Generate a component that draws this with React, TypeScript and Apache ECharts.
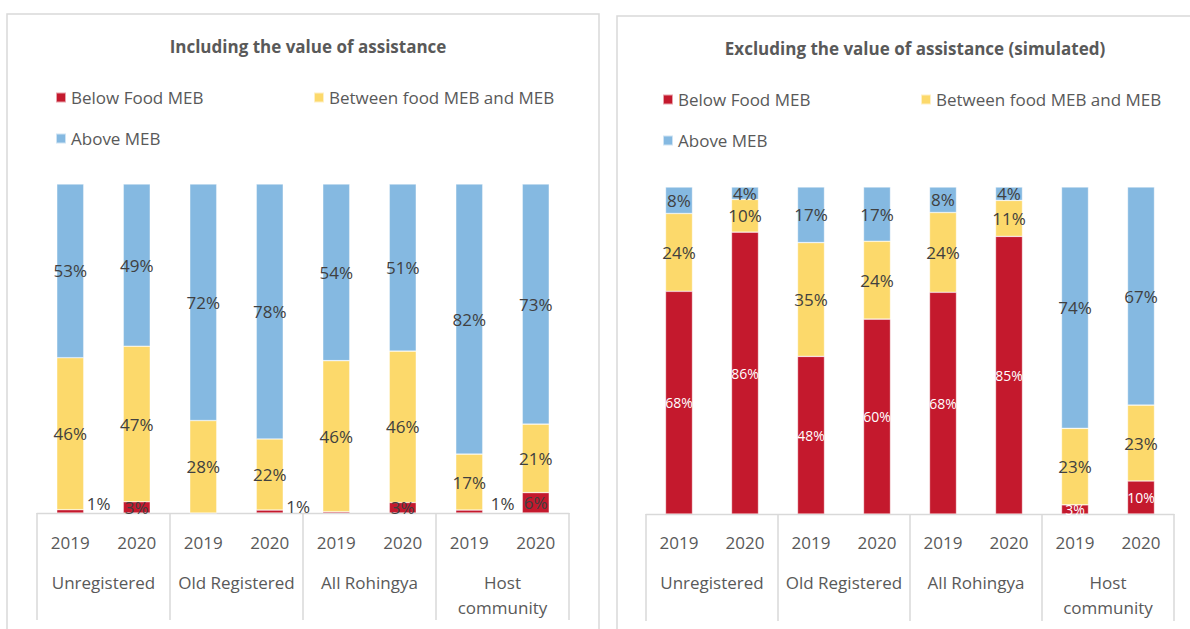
import React, { useEffect, useRef } from "react";
import * as echarts from "echarts";

const years = ["2019", "2020", "2019", "2020", "2019", "2020", "2019", "2020"];
const groups = ["Unregistered", "Old Registered", "All Rohingya", "Host community"];
const seriesNames = ["Below Food MEB", "Between food MEB and MEB", "Above MEB"];

const leftTitle = "Including the value of assistance";
const rightTitle = "Excluding the value of assistance (simulated)";

// Including assistance (%)
const leftBelow = [1.0, 3.4, 0, 0.9, 0.4, 3.2, 0.9, 6.2];
const leftBetween = [46.2, 47.3, 28.1, 21.6, 45.9, 46.0, 17.0, 20.8];
const leftAbove = [52.8, 49.3, 71.9, 77.5, 53.7, 50.8, 82.1, 73.0];

// Excluding assistance (%)
const rightBelow = [68.1, 86.2, 48.2, 59.6, 67.8, 84.9, 2.8, 10.1];
const rightBetween = [23.8, 10.0, 34.8, 23.8, 24.4, 11.0, 23.4, 23.2];
const rightAbove = [8.1, 3.8, 17.0, 16.6, 7.8, 4.1, 73.8, 66.7];

// which small "below" labels sit beside the bar (left chart)
const leftBelowOutside = [true, false, false, true, false, false, true, false];

const COLORS = ["#C4192D", "#FCD96B", "#85B9E1"];
const FONT = "Open Sans";
const AXIS_GREY = "#D9D9D9";
const TEXT_GREY = "#595959";
const LABEL_GREY = "#404040";

export default function App() {
  const ref = useRef<HTMLDivElement>(null);

  useEffect(() => {
    if (!ref.current) return;
    const chart = echarts.init(ref.current, undefined, { renderer: "svg" });

    const fmt = (p: any) => {
      const v = typeof p.value === "number" ? p.value : p.value?.value ?? p.data?.value;
      return v >= 0.5 ? Math.round(v) + "%" : "";
    };

    const grids = [
      { left: 37, top: 184, width: 532, height: 329 },
      { left: 646, top: 187, width: 528, height: 327 },
    ];

    const xAxes: any[] = [];
    const yAxes: any[] = [];
    grids.forEach((_, gi) => {
      xAxes.push({
        type: "category",
        gridIndex: gi,
        data: years,
        position: "bottom",
        axisLine: { show: true, lineStyle: { color: AXIS_GREY, width: 1.3 } },
        axisTick: { show: false },
        axisLabel: {
          color: TEXT_GREY,
          fontFamily: FONT,
          fontSize: 17,
          margin: gi === 0 ? 19 : 18,
          lineHeight: 20,
          interval: 0,
        },
      });
      xAxes.push({
        type: "category",
        gridIndex: gi,
        data: groups,
        position: "bottom",
        axisLine: { show: false },
        axisTick: {
          show: true,
          length: 107,
          lineStyle: { color: AXIS_GREY, width: 1.5 },
        },
        axisLabel: {
          color: TEXT_GREY,
          fontFamily: FONT,
          fontSize: 17,
          margin: gi === 0 ? 57 : 56,
          lineHeight: 25,
          interval: 0,
          formatter: (v: string) => (v === "Host community" ? "Host\ncommunity" : v),
        },
      });
      yAxes.push({
        type: "value",
        gridIndex: gi,
        min: 0,
        max: 100,
        show: false,
        splitLine: { show: false },
      });
    });

    const makeSeries = (
      gi: number,
      name: string,
      values: number[],
      color: string,
      labelColor: string,
      labelSize: number,
      outside?: boolean[]
    ) => ({
      type: "bar",
      name,
      xAxisIndex: gi * 2,
      yAxisIndex: gi,
      stack: "s" + gi,
      barWidth: 27,
      itemStyle: { color, borderColor: "rgba(255,255,255,0.6)", borderWidth: 0.6 },
      label: {
        show: true,
        position: "inside",
        color: labelColor,
        fontFamily: FONT,
        fontSize: labelSize,
        formatter: fmt,
      },
      data: values.map((v, i) =>
        outside && outside[i]
          ? {
              value: v,
              label: {
                position: "right",
                distance: i === 6 ? 8 : 3,
                offset: [0, i === 3 ? -5 : -8],
                color: LABEL_GREY,
                fontSize: 17,
              },
            }
          : v
      ),
    });

    const series = [
      makeSeries(0, seriesNames[0], leftBelow, COLORS[0], LABEL_GREY, 17, leftBelowOutside),
      makeSeries(0, seriesNames[1], leftBetween, COLORS[1], LABEL_GREY, 17),
      makeSeries(0, seriesNames[2], leftAbove, COLORS[2], LABEL_GREY, 17),
      makeSeries(1, seriesNames[0], rightBelow, COLORS[0], "#FFFFFF", 14),
      makeSeries(1, seriesNames[1], rightBetween, COLORS[1], LABEL_GREY, 17),
      makeSeries(1, seriesNames[2], rightAbove, COLORS[2], LABEL_GREY, 17),
    ];

    const legendBase = {
      icon: "rect",
      itemWidth: 10,
      itemHeight: 10,
      selectedMode: false,
      padding: 0,
      textStyle: { color: TEXT_GREY, fontFamily: FONT, fontSize: 17 },
    };

    const legends = [
      { ...legendBase, data: [seriesNames[0]], left: 55, top: 89 },
      { ...legendBase, data: [seriesNames[1]], left: 313, top: 89 },
      { ...legendBase, data: [seriesNames[2]], left: 55, top: 130 },
      { ...legendBase, data: [seriesNames[0]], left: 662, top: 91 },
      { ...legendBase, data: [seriesNames[1]], left: 920, top: 91 },
      { ...legendBase, data: [seriesNames[2]], left: 662, top: 132 },
    ];

    const titleStyle = { color: TEXT_GREY, fontFamily: FONT, fontSize: 17, fontWeight: "bold" as const };

    chart.setOption({
      animation: false,
      backgroundColor: "#FFFFFF",
      title: [
        { text: leftTitle, left: 303, top: 33, textAlign: "center", textStyle: titleStyle },
        { text: rightTitle, left: 910, top: 35, textAlign: "center", textStyle: titleStyle },
      ],
      legend: legends,
      grid: grids,
      xAxis: xAxes,
      yAxis: yAxes,
      series,
      graphic: [
        {
          type: "rect",
          shape: { x: 7, y: 14, width: 592, height: 700 },
          style: { fill: "none", stroke: AXIS_GREY, lineWidth: 1.5 },
          silent: true,
          z: -1,
        },
        {
          type: "rect",
          shape: { x: 617, y: 16, width: 700, height: 700 },
          style: { fill: "none", stroke: AXIS_GREY, lineWidth: 1.5 },
          silent: true,
          z: -1,
        },
      ],
    });

    return () => chart.dispose();
  }, []);

  return (
    <div
      ref={ref}
      style={{ position: "fixed", left: 0, top: 0, width: 1190, height: 629, background: "#fff" }}
    />
  );
}
